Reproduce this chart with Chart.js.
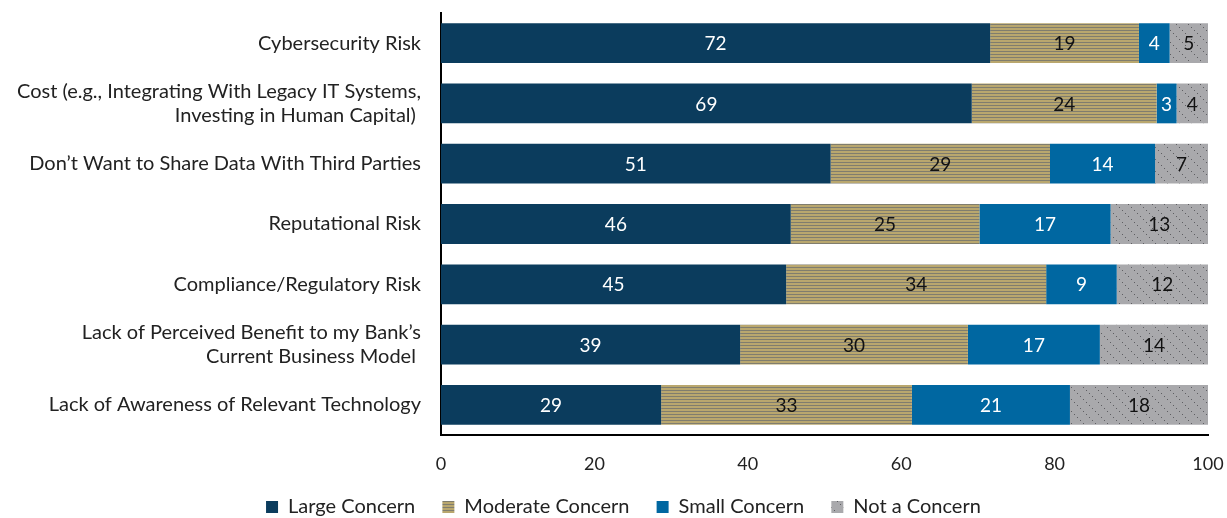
<!DOCTYPE html>
<html>
<head>
<meta charset="utf-8">
<script src="https://cdn.jsdelivr.net/npm/chart.js@4/dist/chart.umd.min.js"></script>
<style>
  html, body { margin: 0; padding: 0; background: #fff; }
  #wrap { width: 1227px; height: 518px; }
</style>
</head>
<body>
<div id="wrap"><canvas id="concernChart" width="1227" height="518"></canvas></div>
<script>
// categories (top to bottom)
let categories = [
  "Cybersecurity Risk",
  ["Cost (e.g., Integrating With Legacy IT Systems,", "Investing in Human Capital) "],
  "Don\u2019t Want to Share Data With Third Parties",
  "Reputational Risk",
  "Compliance/Regulatory Risk",
  ["Lack of Perceived Benefit to my Bank\u2019s", "Current Business Model "],
  "Lack of Awareness of Relevant Technology"
]

// percent of respondents
let largeConcern    = [71.6, 69.2, 50.8, 45.6, 45.0, 39.0, 28.7]
let moderateConcern = [19.4, 24.1, 28.6, 24.6, 33.9, 29.7, 32.7]
let smallConcern    = [4.0, 2.6, 13.7, 17.1, 9.2, 17.2, 20.6]
let notConcern      = [5.0, 4.1, 6.9, 12.7, 11.9, 14.1, 18.0]

// printed labels
let largeLabels    = [72, 69, 51, 46, 45, 39, 29]
let moderateLabels = [19, 24, 29, 25, 34, 30, 33]
let smallLabels    = [4, 3, 14, 17, 9, 17, 21]
let notLabels      = [5, 4, 7, 13, 12, 14, 18]

let xTicks = [0, 20, 40, 60, 80, 100]

const FONT = "'Source Sans Pro', Lato, 'Noto Sans', sans-serif"

// hatch patterns
function stripes() {
  const c = document.createElement('canvas')
  c.width = 4; c.height = 3
  const g = c.getContext('2d')
  g.fillStyle = '#b9a76e'
  g.fillRect(0, 0, 4, 3)
  g.fillStyle = '#807d6e'
  g.fillRect(0, 0, 4, 1)
  return g.createPattern(c, 'repeat')
}
function dots() {
  const c = document.createElement('canvas')
  c.width = 12; c.height = 12
  const g = c.getContext('2d')
  g.fillStyle = '#a9a9ac'
  g.fillRect(0, 0, 12, 12)
  g.fillStyle = '#5e5e62'
  for (let i = 0; i < 12; i += 3) g.fillRect(i, i, 1, 1)
  return g.createPattern(c, 'repeat')
}

const labelSets = [largeLabels, moderateLabels, smallLabels, notLabels]
const labelColors = ['#ffffff', '#111111', '#ffffff', '#111111']

const barLabels = {
  id: 'barLabels',
  afterDatasetsDraw(chart) {
    const ctx = chart.ctx
    ctx.save()
    ctx.font = '19px ' + FONT
    ctx.textAlign = 'center'
    ctx.textBaseline = 'middle'
    chart.data.datasets.forEach((ds, i) => {
      const meta = chart.getDatasetMeta(i)
      meta.data.forEach((bar, j) => {
        const x = (bar.x + bar.base) / 2
        ctx.fillStyle = labelColors[i]
        ctx.fillText(String(labelSets[i][j]), x, bar.y + 1)
      })
    })
    ctx.restore()
  }
}

// the legend in the original sits a bit right of centre
const legendShift = {
  id: 'legendShift',
  afterLayout(chart) {
    if (chart.legend) { chart.legend.left += 22; chart.legend.right += 22 }
  }
}

const data = {
  labels: categories,
  datasets: [
    { label: 'Large Concern', data: largeConcern, backgroundColor: '#0b3c5d' },
    { label: 'Moderate Concern', data: moderateConcern, backgroundColor: stripes() },
    { label: 'Small Concern', data: smallConcern, backgroundColor: '#0067a1' },
    { label: 'Not a Concern', data: notConcern, backgroundColor: dots() }
  ]
}

const config = {
  type: 'bar',
  data: data,
  plugins: [barLabels, legendShift],
  options: {
    indexAxis: 'y',
    responsive: false,
    animation: false,
    layout: { padding: { top: 13, right: 19, left: 0, bottom: -9 } },
    datasets: { bar: { categoryPercentage: 1, barPercentage: 0.66, borderWidth: 0 } },
    scales: {
      x: {
        stacked: true,
        min: 0, max: 100,
        afterBuildTicks: (s) => { s.ticks = xTicks.map(v => ({ value: v })) },
        afterFit: (s) => { s.height = 40; s.paddingLeft = 0; s.paddingRight = 0 },
        grid: { display: false, drawTicks: true, tickLength: 8, tickColor: '#000', tickWidth: 1.5 },
        border: { display: true, color: '#000', width: 2 },
        ticks: { color: '#222', font: { family: FONT, size: 18 }, padding: 10, maxRotation: 0 }
      },
      y: {
        stacked: true,
        afterFit: (s) => { s.width = 441; s.paddingTop = 0; s.paddingBottom = 0 },
        grid: { display: false, drawTicks: false },
        border: { display: true, color: '#000', width: 2 },
        ticks: { color: '#222', font: { family: FONT, size: 20, lineHeight: 1.2 }, padding: 20, autoSkip: false }
      }
    },
    plugins: {
      legend: {
        position: 'bottom',
        labels: {
          boxWidth: 12, boxHeight: 12, padding: 22,
          color: '#222', font: { family: FONT, size: 20 },
          generateLabels: (chart) => Chart.defaults.plugins.legend.labels.generateLabels(chart)
            .map(item => Object.assign(item, { text: item.text + ' ' }))
        }
      },
      tooltip: { enabled: false }
    }
  }
}

const ctx = document.getElementById('concernChart')
new Chart(ctx, config)
</script>
</body>
</html>
